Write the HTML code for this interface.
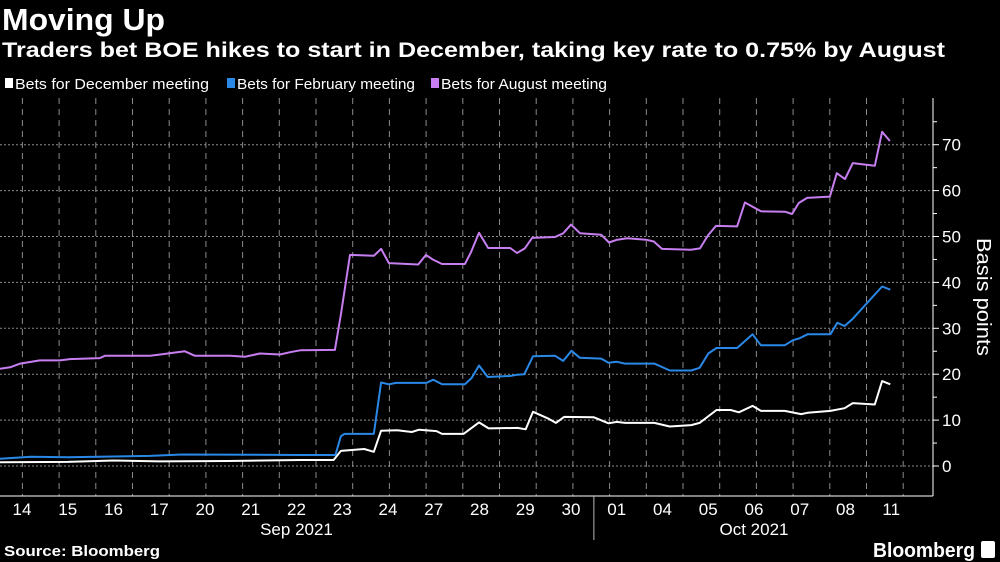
<!DOCTYPE html>
<html><head><meta charset="utf-8"><style>
html,body{margin:0;padding:0;background:#000;width:1000px;height:562px;overflow:hidden}
svg{display:block;font-family:"Liberation Sans Narrow","Liberation Sans",sans-serif}
</style></head><body>
<svg id="chart" width="1000" height="562" viewBox="0 0 1000 562" xmlns="http://www.w3.org/2000/svg">
<rect width="1000" height="562" fill="#000"/>
<text x="2" y="30" fill="#fff" font-size="31" font-weight="bold" textLength="163" lengthAdjust="spacingAndGlyphs">Moving Up</text>
<text x="2" y="57" fill="#fff" font-size="21" font-weight="bold" textLength="943" lengthAdjust="spacingAndGlyphs">Traders bet BOE hikes to start in December, taking key rate to 0.75% by August</text>
<g>
<rect x="5" y="78" width="8" height="10" fill="#fff"/>
<text x="15" y="89" fill="#fff" font-size="15" textLength="194" lengthAdjust="spacingAndGlyphs">Bets for December meeting</text>
<rect x="227" y="78" width="8" height="10" fill="#2a88e6"/>
<text x="237" y="89" fill="#fff" font-size="15" textLength="178" lengthAdjust="spacingAndGlyphs">Bets for February meeting</text>
<rect x="431" y="78" width="8" height="10" fill="#c77ef0"/>
<text x="441" y="89" fill="#fff" font-size="15" textLength="166" lengthAdjust="spacingAndGlyphs">Bets for August meeting</text>
</g>
<g id="grid"></g>
<g id="axes"></g>
<g id="series"></g>
<text transform="translate(977,297) rotate(90)" text-anchor="middle" fill="#fff" font-size="20" textLength="118" lengthAdjust="spacingAndGlyphs">Basis points</text>
<text x="4" y="556" fill="#fff" font-size="15" font-weight="bold" textLength="156" lengthAdjust="spacingAndGlyphs">Source: Bloomberg</text>
<text x="873" y="557" fill="#fff" font-size="20" font-weight="bold" textLength="102" lengthAdjust="spacingAndGlyphs">Bloomberg</text>
<rect x="981" y="541" width="14" height="17" rx="2" fill="#fff"/>
</svg>
<script>
const dateLabels=["14","15","16","17","20","21","22","23","24","27","28","29","30","01","04","05","06","07","08","11"];
const monthLabels=["Sep 2021","Oct 2021"];
const monthStartIdx=[0,13];
const yTicks=[0,10,20,30,40,50,60,70];
const augT=[-0.48,-0.26,-0.04,0.39,0.83,1.05,1.70,1.81,2.80,3.02,3.56,3.78,4.55,4.87,5.20,5.64,5.86,6.08,6.84,6.97,7.17,7.69,7.85,8.02,8.66,8.83,8.98,9.18,9.68,9.81,9.99,10.19,10.67,10.82,10.99,11.15,11.65,11.83,12.0,12.2,12.66,12.83,13.01,13.23,13.64,13.81,13.99,14.62,14.82,14.99,15.17,15.63,15.80,16.15,16.68,16.83,16.98,17.16,17.66,17.81,17.99,18.16,18.64,18.80,18.97];
const augV=[21.2,21.5,22.3,23,23,23.3,23.5,24,24,24.3,25,24,24,23.8,24.5,24.3,24.8,25.2,25.3,33,46,45.8,47.3,44.2,43.9,46,45,44,44,46.5,50.8,47.5,47.5,46.4,47.4,49.7,49.9,50.7,52.6,50.7,50.4,48.7,49.3,49.6,49.3,48.9,47.3,47.1,47.4,50.2,52.3,52.2,57.4,55.5,55.4,54.9,57.3,58.4,58.7,63.8,62.5,66,65.4,72.8,70.8];
const febT=[-0.48,0.2,1.0,2.8,3.5,6.08,6.85,6.97,7.05,7.69,7.85,8.02,8.18,8.84,8.99,9.18,9.68,9.83,9.99,10.18,10.67,10.83,10.98,11.17,11.65,11.83,12.01,12.19,12.66,12.82,13.0,13.18,13.82,14.16,14.63,14.81,15.0,15.18,15.63,15.97,16.15,16.67,16.85,16.99,17.17,17.67,17.82,17.98,18.16,18.80,18.98];
const febV=[1.6,2.0,1.9,2.2,2.5,2.4,2.4,6.5,7.0,7.0,18.2,17.8,18.1,18.1,18.8,17.8,17.8,19.2,21.9,19.4,19.6,19.9,20,23.9,24,22.9,25.1,23.6,23.4,22.5,22.7,22.3,22.3,20.8,20.8,21.4,24.5,25.7,25.7,28.7,26.3,26.3,27.4,27.8,28.7,28.7,31.2,30.5,32.1,39.1,38.4];
const decT=[-0.48,1.0,2.0,3.0,4.5,6.08,6.81,6.97,7.48,7.69,7.85,8.20,8.52,8.68,9.06,9.18,9.65,9.99,10.20,10.83,11.01,11.17,11.49,11.67,11.85,12.50,12.82,13.0,13.18,13.82,14.16,14.63,14.81,15.18,15.49,15.67,15.97,16.15,16.67,17.03,17.17,17.67,17.98,18.16,18.64,18.80,18.98];
const decV=[0.8,0.9,1.2,1.0,1.1,1.3,1.3,3.3,3.7,3.1,7.7,7.8,7.4,7.9,7.6,7.0,7.0,9.5,8.2,8.3,8.0,11.8,10.4,9.4,10.7,10.6,9.3,9.6,9.4,9.4,8.6,8.9,9.4,12.2,12.2,11.7,13.1,12.0,12.0,11.3,11.6,12.0,12.6,13.7,13.4,18.5,17.8];

const NS="http://www.w3.org/2000/svg";
const X0=22, DX=45.75, Y0=466, DY=4.59, PR=933, PT=98, PB=496;
function xs(t){return X0+t*DX;}
function ys(v){return Y0-v*DY;}
function mk(tag,attrs,parent){const e=document.createElementNS(NS,tag);for(const k in attrs)e.setAttribute(k,attrs[k]);parent.appendChild(e);return e;}
const grid=document.getElementById('grid'), axes=document.getElementById('axes'), series=document.getElementById('series');
for(let x=22.4;x<PR;x+=36.7){
  const l=mk('line',{x1:x,x2:x,y1:PT,y2:PB,stroke:'#8a8a8a','stroke-width':1,'stroke-dasharray':'6,5'},grid);
  
  
}
yTicks.forEach(v=>{
  const y=ys(v);
  const l=mk('line',{x1:0,x2:PR,y1:y,y2:y,stroke:'#8a8a8a','stroke-width':1,'stroke-dasharray':'2,2'},grid);
  
  
  const tk=mk('line',{x1:PR,x2:PR+6,y1:y,y2:y,stroke:'#fff'},axes);
  
  
  const mt=mk('line',{x1:PR,x2:PR+4,y1:ys(v+5),y2:ys(v+5),stroke:'#fff'},axes);
  
  
  const t=mk('text',{x:PR+9,y:y+6,fill:'#fff','font-size':17},axes);
  t.textContent=v;
  
  
});
const ra=mk('line',{x1:PR,x2:PR,y1:PT,y2:PB,stroke:'#fff'},axes);


const ba=mk('line',{x1:0,x2:PR,y1:PB,y2:PB,stroke:'#fff'},axes);


dateLabels.forEach((d,i)=>{
  const t=mk('text',{x:xs(i),y:515,fill:'#fff','font-size':17,'text-anchor':'middle'},axes);
  t.textContent=d;
  
  
});
monthLabels.forEach((m,i)=>{
  const s=monthStartIdx[i], e=(i+1<monthStartIdx.length?monthStartIdx[i+1]:dateLabels.length)-1;
  const t=mk('text',{x:(xs(s)+xs(e))/2,y:535,fill:'#fff','font-size':17,'text-anchor':'middle'},axes);
  t.textContent=m;
  
  
  if(i>0){const sx=(xs(s)+xs(s-1))/2;
    const l=mk('line',{x1:sx,x2:sx,y1:PB,y2:540,stroke:'#bbb'},axes);
    
    }
});
function drawLine(T,V,color,name){
  const d=T.map((t,i)=>(i?'L':'M')+xs(t).toFixed(1)+','+ys(V[i]).toFixed(1)).join(' ');
  const p=mk('path',{d:d,fill:'none',stroke:color,'stroke-width':2,'stroke-linejoin':'round'},series);
  
  
}
drawLine(decT,decV,'#ffffff','december-line');
drawLine(febT,febV,'#2a88e6','february-line');
drawLine(augT,augV,'#c77ef0','august-line');
</script>
</body></html>
